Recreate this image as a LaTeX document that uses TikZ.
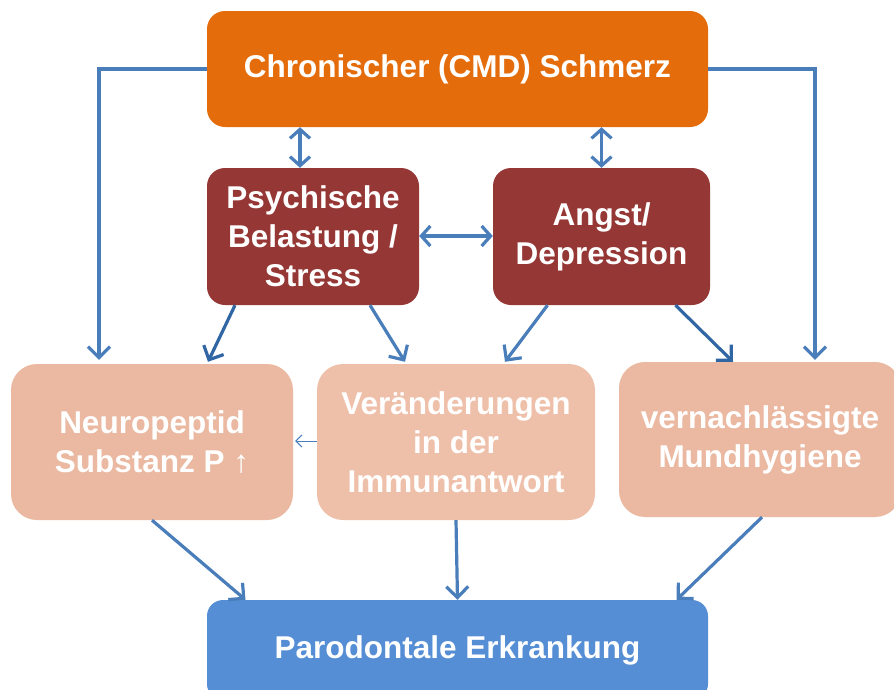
\documentclass[tikz,border=0pt]{standalone}
\usepackage{fontspec}
\setmainfont{Liberation Sans}
\usetikzlibrary{arrows.meta, positioning}

\definecolor{painorange}{HTML}{E46C0A}
\definecolor{psychred}{HTML}{953735}
\definecolor{effectsalmon}{HTML}{EBB9A1}
\definecolor{immunesalmon}{HTML}{EFC0A9}
\definecolor{paroblue}{HTML}{558ED5}
\definecolor{linkblue}{HTML}{4A7EBB}
\definecolor{darklinkblue}{HTML}{2F66A3}

\begin{document}
\begin{tikzpicture}[x=1pt, y=-1pt,
    font=\bfseries\fontsize{31.5}{39}\selectfont]

% --- Styles ---
\tikzset{
  box/.style={rounded corners=18pt, text=white, align=center, inner sep=0pt},
  link/.style={draw=linkblue, line width=3.2pt,
    arrows={-Straight Barb[length=11pt, width=22pt]}},
  twoway/.style={link, arrows={Straight Barb[length=9pt, width=20pt]-Straight Barb[length=9pt, width=20pt]}},
  darklink/.style={link, draw=darklinkblue},
  thinlink/.style={draw=linkblue, line width=1pt,
    arrows={-Straight Barb[length=6pt, width=12pt]}}
}

\clip (0,0) rectangle (894,689);

% --- Boxes ---
\node[box, fill=painorange, minimum width=501pt, minimum height=116pt] (pain) at (457.5,69) {Chronischer (CMD) Schmerz};

\node[box, fill=psychred, minimum width=212pt, minimum height=137pt] (stress) at (313,236.5) {Psychische\\Belastung /\\Stress};
\node[box, fill=psychred, minimum width=217pt, minimum height=137pt] (anxiety) at (601.5,236.5) {Angst/\\Depression};

\node[box, rounded corners=26pt, fill=effectsalmon, minimum width=282pt, minimum height=156pt] (peptide) at (152,442) {Neuropeptid\\Substanz P ↑};
\node[box, rounded corners=26pt, fill=immunesalmon, minimum width=278pt, minimum height=156pt] (immune) at (456,442) {Veränderungen\\in der\\Immunantwort};
\node[box, rounded corners=26pt, fill=effectsalmon, minimum width=282pt, minimum height=155pt] (hygiene) at (760,439.5) {vernachlässigte\\Mundhygiene};

\node[box, rounded corners=16pt, fill=paroblue, minimum width=501pt, minimum height=100pt] (paro) at (457.5,650) {Parodontale Erkrankung};

% --- Connectors ---
\draw[link] (pain.west) -| ([xshift=-53pt, yshift=4pt]peptide.north);
\draw[link] (pain.east) -| ([xshift=55pt, yshift=2pt]hygiene.north);

\draw[twoway] ([xshift=-13pt]stress.north) -- ([xshift=-13pt]stress.north |- pain.south);
\draw[twoway] (anxiety.north) -- (anxiety.north |- pain.south);
\draw[twoway] ([yshift=0.5pt]stress.east) -- ([yshift=0.5pt]anxiety.west);

\draw[darklink] ([xshift=-78pt]stress.south) -- ([xshift=56pt, yshift=2pt]peptide.north);
\draw[link] ([xshift=57pt]stress.south) -- ([xshift=-51pt, yshift=2pt]immune.north);
\draw[link] ([xshift=-54pt]anxiety.south) -- ([xshift=49pt, yshift=2pt]immune.north);
\draw[darklink] ([xshift=74pt]anxiety.south) -- ([xshift=-27pt]hygiene.north);

\draw[thinlink] ([yshift=1pt]immune.west) -- ([yshift=1pt, xshift=2pt]peptide.east);

\draw[link] (peptide.south) -- ([xshift=-212pt]paro.north);
\draw[link] (immune.south) -- (paro.north);
\draw[link] ([xshift=2pt]hygiene.south) -- ([xshift=219pt]paro.north);

\end{tikzpicture}
\end{document}
